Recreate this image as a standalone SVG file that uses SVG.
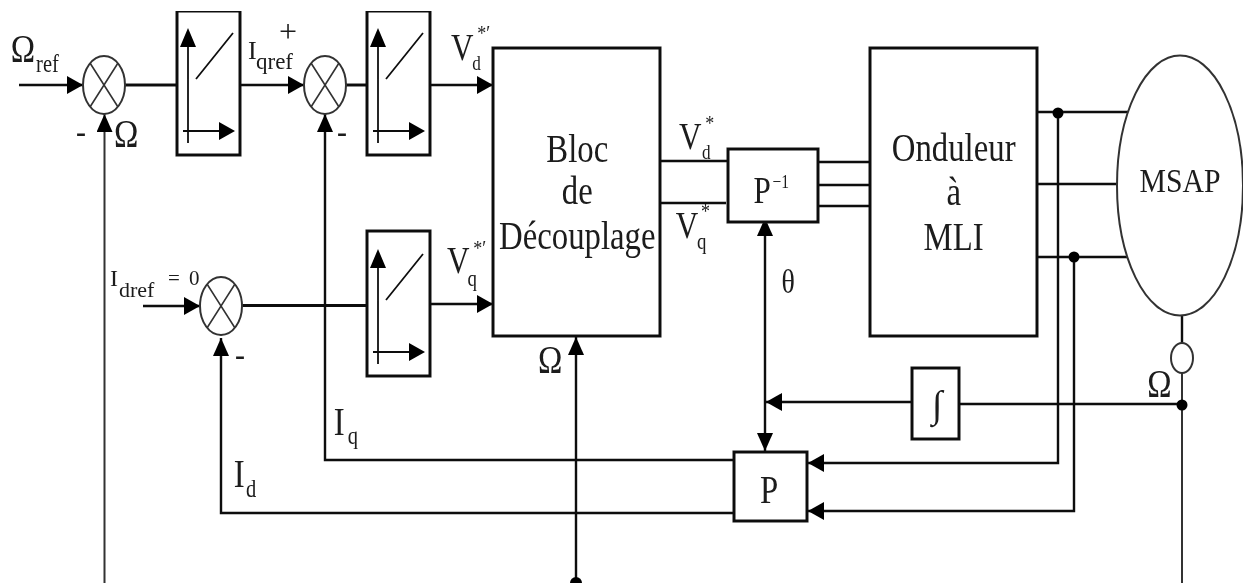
<svg xmlns="http://www.w3.org/2000/svg" width="1245" height="583" viewBox="0 0 1245 583">
<style>
text{font-family:"Liberation Serif","Times New Roman",serif;fill:#1a1a1a}
.s{transform:scale(.82,1)}
.b{fill:#fff;stroke:#111;stroke-width:3}
.o{fill:#fff;stroke:#333;stroke-width:2}
.x{fill:none;stroke:#333;stroke-width:1.6}
.c{fill:none;stroke:#111;stroke-width:2.4}
.w{fill:none;stroke:#111;stroke-width:3}
.g{fill:none;stroke:#333;stroke-width:2}
.t{fill:none;stroke:#111;stroke-width:1.8}
.h{fill:#000}
.m{text-anchor:middle}
.d{font-weight:bold;font-size:30px}
</style>
<defs>
<filter id="soft" x="0" y="0" width="100%" height="100%"><feGaussianBlur stdDeviation="0.45"/></filter>
<marker id="ah" markerUnits="userSpaceOnUse" markerWidth="18" markerHeight="20" refX="16" refY="10" orient="auto"><path d="M0 1L16 10L0 19Z" fill="#000"/></marker>
<marker id="av" markerUnits="userSpaceOnUse" markerWidth="20" markerHeight="18" refX="18" refY="8" orient="auto"><path d="M0 0L18 8L0 16Z" fill="#000"/></marker>
<g id="graph">
<path class="t" d="M11 132V36M6 120H42M19 68L56 22"/>
<path class="h" d="M11 17L19 36H3ZM58 120L42 129V111Z"/>
</g>
<g id="sum"><ellipse class="o" cx="0" cy="0" rx="21" ry="29"/><path class="x" d="M-14 -22L14 22M14 -22L-14 22"/></g>
</defs>
<g filter="url(#soft)">
<g id="connectors">
<path class="c" d="M19 85H83" marker-end="url(#ah)"/>
<path class="w" d="M125 85H177"/>
<path class="c" d="M240 85H304" marker-end="url(#ah)"/>
<path class="w" d="M346 85H367"/>
<path class="c" d="M430 85H493" marker-end="url(#ah)"/>
<path class="c" d="M143 306H200" marker-end="url(#ah)"/>
<path class="w" d="M242 305.500H367"/>
<path class="c" d="M430 304H493" marker-end="url(#ah)"/>
<path class="g" d="M104.500 583V114" marker-end="url(#av)"/>
<path class="c" d="M576 583V337" marker-end="url(#av)"/>
<path class="c" d="M734 460H325V114" marker-end="url(#av)"/>
<path class="c" d="M734 513H221V338" marker-end="url(#av)"/>
<path class="c" d="M660 161H728M660 203H726"/>
<path class="c" d="M818 162H870M818 185H870M818 206H870"/>
<path class="c" d="M1037 112H1128M1037 184H1117M1037 257H1128"/>
<path class="c" d="M1058 113V463H808" marker-end="url(#ah)"/>
<path class="c" d="M1074 257V511H808" marker-end="url(#ah)"/>
<path class="c" d="M765 222V451" marker-end="url(#av)"/>
<path class="h" d="M765 218L773 236H757Z"/>
<path class="c" d="M912 402H766" marker-end="url(#ah)"/>
<path class="c" d="M959 404H1182"/>
<path class="c" d="M1182 316V344"/>
<path class="g" d="M1182 373V583"/>
<circle class="h" cx="1058" cy="113" r="5.500"/>
<circle class="h" cx="1074" cy="257" r="5.500"/>
<circle class="h" cx="1182" cy="405" r="5.500"/>
<circle class="h" cx="576" cy="583" r="6"/>
</g>
<g id="sum1"><use href="#sum" x="104" y="85"/></g>
<g id="sum2"><use href="#sum" x="325" y="85"/></g>
<g id="sum3"><use href="#sum" x="221" y="306"/></g>
<g id="reg1"><rect class="b" x="177" y="11" width="63" height="144"/><use href="#graph" x="177" y="11"/></g>
<g id="reg2"><rect class="b" x="367" y="11" width="63" height="144"/><use href="#graph" x="367" y="11"/></g>
<g id="reg3"><rect class="b" x="367" y="231" width="63" height="145"/><use href="#graph" x="367" y="232"/></g>
<g id="bloc"><rect class="b" x="493" y="48" width="167" height="288"/>
<text class="m s" x="704" y="162" font-size="40">Bloc</text>
<text class="m s" x="704" y="204" font-size="40">de</text>
<text class="m s" x="704" y="249" font-size="40">Découplage</text></g>
<g id="pinv"><rect class="b" x="728" y="149" width="90" height="73"/>
<text class="s" x="919" y="203" font-size="38">P<tspan x="942" y="188" font-size="19">−1</tspan></text></g>
<g id="onduleur"><rect class="b" x="870" y="48" width="167" height="288"/>
<text class="m s" x="1163" y="161" font-size="40">Onduleur</text>
<text class="m s" x="1163" y="205" font-size="40">à</text>
<text class="m s" x="1163" y="250" font-size="40">MLI</text></g>
<g id="msap"><ellipse class="o" cx="1180" cy="185.500" rx="63" ry="130"/>
<text class="m" x="1180" y="192" font-size="33" textLength="81" lengthAdjust="spacingAndGlyphs">MSAP</text></g>
<g id="sensor"><ellipse class="o" cx="1182" cy="358" rx="11" ry="15"/></g>
<g id="integ"><rect class="b" x="912" y="368" width="47" height="71"/>
<text class="m" x="937" y="417" font-size="38">∫</text></g>
<g id="p"><rect class="b" x="734" y="452" width="73" height="69"/>
<text class="m s" x="938" y="503" font-size="40">P</text></g>
<g id="labels">
<text class="s" x="13" y="62" font-size="40">Ω<tspan x="44" y="72" font-size="25">ref</tspan></text>
<text class="s" x="139" y="147" font-size="40">Ω</text>
<text class="d" x="76" y="142">-</text>
<text class="d" x="337" y="142">-</text>
<text class="d" x="235" y="365">-</text>
<text x="248" y="59" font-size="26">I<tspan x="256" y="69" font-size="24" textLength="37" lengthAdjust="spacingAndGlyphs">qref</tspan></text>
<text x="279" y="42" font-size="32">+</text>
<text class="s" x="550" y="60" font-size="38">V<tspan x="576" y="70" font-size="21">d</tspan><tspan x="582" y="40" font-size="22">*′</tspan></text>
<text class="s" x="545" y="273" font-size="38">V<tspan x="570" y="286" font-size="23">q</tspan><tspan x="577" y="255" font-size="22">*′</tspan></text>
<text class="s" x="828" y="149" font-size="38">V<tspan x="856" y="159" font-size="21">d</tspan><tspan x="860" y="130" font-size="22">*</tspan></text>
<text class="s" x="824" y="238" font-size="38">V<tspan x="850" y="249" font-size="23">q</tspan><tspan x="855" y="218" font-size="22">*</tspan></text>
<text class="s" x="953" y="293" font-size="34">θ</text>
<text x="110" y="286" font-size="24">I<tspan x="119" y="297" font-size="22">dref</tspan><tspan x="168" y="285" font-size="21" word-spacing="4">= 0</tspan></text>
<text class="s" x="407" y="435" font-size="40">I<tspan x="424" y="444" font-size="25">q</tspan></text>
<text class="s" x="285" y="487" font-size="40">I<tspan x="300" y="497" font-size="25">d</tspan></text>
<text class="s" x="656" y="373" font-size="40">Ω</text>
<text class="s" x="1399" y="397" font-size="40">Ω</text>
</g>
</g>
</svg>
